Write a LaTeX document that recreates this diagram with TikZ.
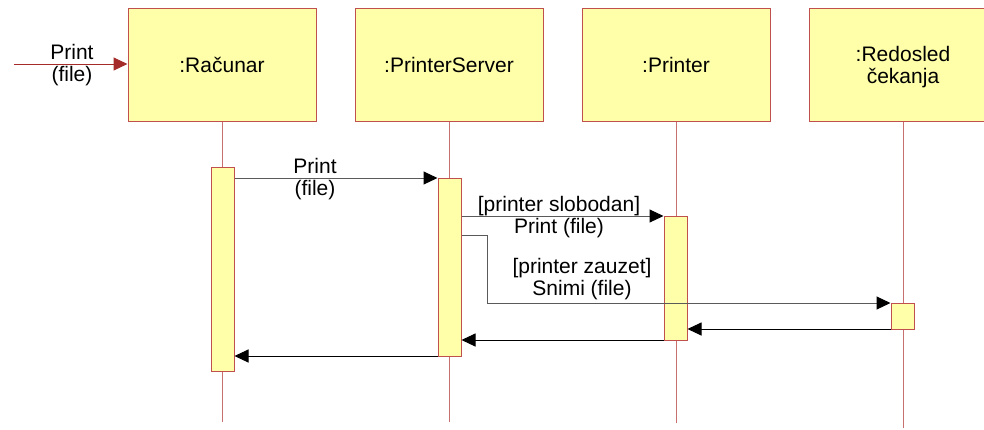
\documentclass[tikz,border=0pt]{standalone}
\usepackage{fontspec}
\setmainfont{Liberation Sans}
\usetikzlibrary{arrows.meta}
\definecolor{boxfill}{HTML}{FFFFAA}
\definecolor{boxdraw}{HTML}{C0504D}
\definecolor{lifecol}{HTML}{C87070}
\definecolor{entrycol}{HTML}{A52A2A}
\definecolor{callcol}{HTML}{5A5A5A}
\tikzset{
  txt/.style={font=\fontsize{21}{22}\selectfont},
  objbox/.style={draw=boxdraw, fill=boxfill, line width=1pt, minimum width=188pt, minimum height=113pt, inner sep=0pt, align=center, txt},
  actbox/.style={draw=boxdraw, fill=boxfill, line width=1pt, minimum width=23pt, inner sep=0pt, anchor=north},
  lifeline/.style={draw=lifecol, line width=1pt},
  callmsg/.style={draw=callcol, line width=1pt, -{Triangle[length=14pt,width=13pt,color=black]}},
  retmsg/.style={draw=black, line width=1pt, -{Triangle[length=14pt,width=13pt]}},
  entrymsg/.style={draw=entrycol, line width=1pt, -{Triangle[length=14pt,width=13pt]}},
  lbl/.style={align=center, inner sep=0pt, txt},
}
\begin{document}
\begin{tikzpicture}[x=1pt,y=-1pt]
\useasboundingbox (0,0) rectangle (984,429);
\clip (0,0) rectangle (984,429);
% lifelines end points
\coordinate (rcend) at (222,422);
\coordinate (psend) at (449,422);
\coordinate (prend) at (676,423);
\coordinate (rqend) at (903,428);
% object boxes
\node[objbox] (rc) at (222,64.5) {:Računar};
\node[objbox] (ps) at (449,64.5) {:PrinterServer};
\node[objbox] (pr) at (676,64.5) {:Printer};
\node[objbox] (rq) at (903,64.5) {};
\node[lbl] (rqt) at (903,67) {:Redosled\\čekanja};
% lifelines
\draw[lifeline] (rc.south) -- (rcend);
\draw[lifeline] (ps.south) -- (psend);
\draw[lifeline] (pr.south) -- (prend);
\draw[lifeline] (rq.south) -- (rqend);
% activations
\node[actbox, minimum height=204pt] (a1) at (222.5,167) {};
\node[actbox, minimum height=178pt] (a2) at (449.5,178) {};
\node[actbox, minimum height=124pt] (a3) at (675.5,216) {};
\node[actbox, minimum height=26pt] (a4) at (902.5,303) {};
% message levels
\coordinate (m0) at (14,64);
\coordinate (m1) at (0,178);
\coordinate (m2) at (0,216);
\coordinate (m3) at (0,235);
\coordinate (m3b) at (487,303);
\coordinate (m4) at (0,329);
\coordinate (m5) at (0,340);
\coordinate (m6) at (0,356);
% entry message
\draw[entrymsg] (m0) -- (rc.west |- m0);
\node[lbl] (l0) at (72,65) {Print\\(file)};
% Print (file)
\draw[callmsg] (a1.east |- m1) -- (a2.west |- m1);
\node[lbl] (l1) at (315,179) {Print\\(file)};
% [printer slobodan]
\draw[callmsg] (a2.east |- m2) -- (a3.west |- m2);
\node[lbl] (l2) at (559,217) {[printer slobodan]\\Print (file)};
% [printer zauzet]
\draw[callmsg] (a2.east |- m3) -| (m3b) -- (a4.west |- m3b);
\node[lbl] (l3) at (582,279) {[printer zauzet]\\Snimi (file)};
% returns
\draw[retmsg] (a4.west |- m4) -- (a3.east |- m4);
\draw[retmsg] (a3.west |- m5) -- (a2.east |- m5);
\draw[retmsg] (a2.west |- m6) -- (a1.east |- m6);
\end{tikzpicture}
\end{document}
